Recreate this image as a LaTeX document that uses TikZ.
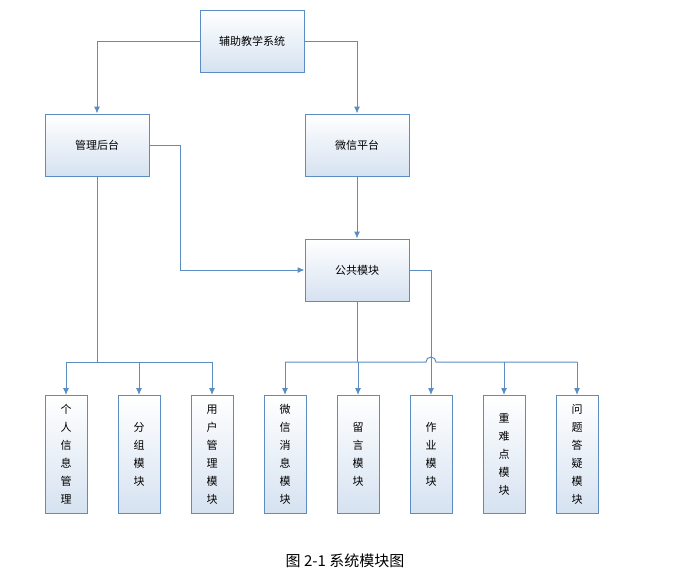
\documentclass[tikz,border=0pt]{standalone}
\usepackage{fontspec}
\setmainfont{Noto Sans CJK SC}
\usetikzlibrary{positioning,arrows.meta}
\definecolor{lineblue}{HTML}{5B8DC2}
\definecolor{fillblue}{HTML}{D6E2F1}
\tikzset{every path/.style={line width=1pt}}
\tikzset{
  box/.style={draw=lineblue,top color=white,bottom color=fillblue,minimum width=104pt,minimum height=62pt,font=\fontsize{11}{13}\selectfont,inner sep=0pt},
  tallbox/.style={draw=lineblue,top color=white,bottom color=fillblue,minimum width=42pt,minimum height=118pt,font=\fontsize{11}{18}\selectfont,align=center,inner sep=0pt,anchor=north},
  link/.style={draw=lineblue,-{Latex[length=7pt,width=6pt]}}
}
\begin{document}
\begin{tikzpicture}[x=1pt,y=-1pt]
  \useasboundingbox (0,0) rectangle (675,574);
  \node[box] (sys) at (252,41) {辅助教学系统};
  \node[box] (admin) at (97,145) {管理后台};
  \node[box] (wx) at (357,145) {微信平台};
  \node[box] (pub) at (357,270) {公共模块};
  \node[tallbox] (m1) at (66,395) {个\\人\\信\\息\\管\\理};
  \node[tallbox] (m2) at (139,395) {分\\组\\模\\块};
  \node[tallbox] (m3) at (212,395) {用\\户\\管\\理\\模\\块};
  \node[tallbox] (m4) at (285,395) {微\\信\\消\\息\\模\\块};
  \node[tallbox] (m5) at (358,395) {留\\言\\模\\块};
  \node[tallbox] (m6) at (431,395) {作\\业\\模\\块};
  \node[tallbox] (m7) at (504,395) {重\\难\\点\\模\\块};
  \node[tallbox] (m8) at (577,395) {问\\题\\答\\疑\\模\\块};
  \node[font=\fontsize{15}{17}\selectfont] (cap) at (345,561) {图 2-1 系统模块图};
  % top level
  \draw[link] (sys.west) -| (admin.north);
  \draw[link] (sys.east) -| (wx.north);
  \draw[link] (wx.south) -- (pub.north);
  \draw[link] (admin.east) -- (180,145) |- (pub.west);
  % admin modules
  \coordinate (a1) at (97,362);
  \draw[lineblue] (admin.south) -- (a1);
  \draw[lineblue] (66,362) -- (212,362);
  \foreach \m in {m1,m2,m3} \draw[link] (\m.north |- a1) -- (\m.north);
  % public modules, with a hop over the line to m6
  \coordinate (p1) at (357,362);
  \draw[lineblue] (pub.south) -- (p1);
  \draw[lineblue] (285,362) -- (426,362) arc[start angle=180,end angle=360,radius=5] -- (577,362);
  \foreach \m in {m4,m5,m7,m8} \draw[link] (\m.north |- p1) -- (\m.north);
  \draw[link] (pub.east) -| (m6.north);
\end{tikzpicture}
\end{document}
